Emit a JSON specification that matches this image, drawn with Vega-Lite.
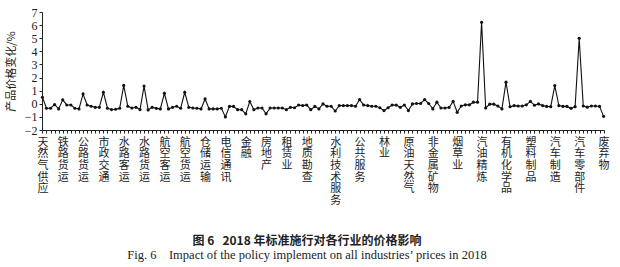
{
  "$schema": "https://vega.github.io/schema/vega-lite/v6.json",
  "width": 562,
  "height": 118,
  "autosize": {"type": "none"},
  "padding": {"left": 42, "top": 12, "right": 16, "bottom": 137},
  "background": "white",
  "config": {"view": {"stroke": null}},
  "title": {
    "text": "图 6\u00a0\u00a0\u00a02018 年标准施行对各行业的价格影响",
    "subtitle": "Fig. 6\u00a0\u00a0\u00a0\u00a0Impact of the policy implement on all industries’ prices in 2018",
    "orient": "bottom",
    "anchor": "middle",
    "dx": -16,
    "offset": 30,
    "font": "Noto Sans CJK SC",
    "fontSize": 12,
    "fontWeight": "bold",
    "color": "#222",
    "subtitleFont": "Liberation Serif",
    "subtitleFontSize": 12.5,
    "subtitleColor": "#222",
    "subtitlePadding": 1
  },
  "data": {
    "values": [
      {"industry": "天然气供应", "change": 0.5},
      {"industry": "#1", "change": -0.34},
      {"industry": "#2", "change": -0.34},
      {"industry": "#3", "change": -0.06},
      {"industry": "#4", "change": -0.39},
      {"industry": "铁路货运", "change": 0.3},
      {"industry": "#6", "change": -0.09},
      {"industry": "#7", "change": -0.09},
      {"industry": "#8", "change": -0.34},
      {"industry": "#9", "change": -0.39},
      {"industry": "公路货运", "change": 0.75},
      {"industry": "#11", "change": -0.09},
      {"industry": "#12", "change": -0.19},
      {"industry": "#13", "change": -0.27},
      {"industry": "#14", "change": -0.27},
      {"industry": "市政交通", "change": 0.88},
      {"industry": "#16", "change": -0.34},
      {"industry": "#17", "change": -0.44},
      {"industry": "#18", "change": -0.42},
      {"industry": "#19", "change": -0.34},
      {"industry": "水路客运", "change": 1.4},
      {"industry": "#21", "change": -0.19},
      {"industry": "#22", "change": -0.32},
      {"industry": "#23", "change": -0.27},
      {"industry": "#24", "change": -0.44},
      {"industry": "水路货运", "change": 1.35},
      {"industry": "#26", "change": -0.47},
      {"industry": "#27", "change": -0.27},
      {"industry": "#28", "change": -0.35},
      {"industry": "#29", "change": -0.39},
      {"industry": "航空客运", "change": 0.8},
      {"industry": "#31", "change": -0.39},
      {"industry": "#32", "change": -0.27},
      {"industry": "#33", "change": -0.19},
      {"industry": "#34", "change": -0.34},
      {"industry": "航空货运", "change": 0.88},
      {"industry": "#36", "change": -0.27},
      {"industry": "#37", "change": -0.32},
      {"industry": "#38", "change": -0.34},
      {"industry": "#39", "change": -0.39},
      {"industry": "仓储运输", "change": 0.37},
      {"industry": "#41", "change": -0.39},
      {"industry": "#42", "change": -0.39},
      {"industry": "#43", "change": -0.39},
      {"industry": "#44", "change": -0.34},
      {"industry": "电信通讯", "change": -1.0},
      {"industry": "#46", "change": -0.2},
      {"industry": "#47", "change": -0.2},
      {"industry": "#48", "change": -0.45},
      {"industry": "#49", "change": -0.45},
      {"industry": "金融", "change": -0.77},
      {"industry": "#51", "change": 0.17},
      {"industry": "#52", "change": -0.45},
      {"industry": "#53", "change": -0.32},
      {"industry": "#54", "change": -0.32},
      {"industry": "房地产", "change": -0.77},
      {"industry": "#56", "change": -0.32},
      {"industry": "#57", "change": -0.32},
      {"industry": "#58", "change": -0.32},
      {"industry": "#59", "change": -0.32},
      {"industry": "租赁业", "change": -0.45},
      {"industry": "#61", "change": -0.27},
      {"industry": "#62", "change": -0.3},
      {"industry": "#63", "change": -0.09},
      {"industry": "#64", "change": -0.14},
      {"industry": "地质勘查", "change": -0.09},
      {"industry": "#66", "change": -0.45},
      {"industry": "#67", "change": -0.2},
      {"industry": "#68", "change": -0.39},
      {"industry": "#69", "change": -0.01},
      {"industry": "#70", "change": -0.19},
      {"industry": "#71", "change": -0.19},
      {"industry": "水利技术服务", "change": -0.55},
      {"industry": "#73", "change": -0.14},
      {"industry": "#74", "change": -0.14},
      {"industry": "#75", "change": -0.14},
      {"industry": "#76", "change": -0.14},
      {"industry": "#77", "change": -0.19},
      {"industry": "公共服务", "change": 0.32},
      {"industry": "#79", "change": -0.09},
      {"industry": "#80", "change": -0.14},
      {"industry": "#81", "change": -0.19},
      {"industry": "#82", "change": -0.19},
      {"industry": "#83", "change": -0.3},
      {"industry": "林业", "change": -0.52},
      {"industry": "#85", "change": -0.3},
      {"industry": "#86", "change": -0.09},
      {"industry": "#87", "change": -0.1},
      {"industry": "#88", "change": -0.27},
      {"industry": "#89", "change": -0.09},
      {"industry": "原油天然气", "change": -0.52},
      {"industry": "#91", "change": -0.01},
      {"industry": "#92", "change": 0.02},
      {"industry": "#93", "change": 0.02},
      {"industry": "#94", "change": 0.32},
      {"industry": "#95", "change": 0.02},
      {"industry": "非金属矿物", "change": -0.39},
      {"industry": "#97", "change": 0.12},
      {"industry": "#98", "change": -0.32},
      {"industry": "#99", "change": -0.32},
      {"industry": "#100", "change": -0.28},
      {"industry": "#101", "change": 0.18},
      {"industry": "烟草业", "change": -0.65},
      {"industry": "#103", "change": -0.17},
      {"industry": "#104", "change": -0.08},
      {"industry": "#105", "change": -0.08},
      {"industry": "#106", "change": 0.12},
      {"industry": "#107", "change": 0.12},
      {"industry": "汽油精炼", "change": 6.22},
      {"industry": "#109", "change": -0.32},
      {"industry": "#110", "change": -0.03},
      {"industry": "#111", "change": -0.03},
      {"industry": "#112", "change": -0.17},
      {"industry": "#113", "change": -0.39},
      {"industry": "有机化学品", "change": 1.65},
      {"industry": "#115", "change": -0.23},
      {"industry": "#116", "change": -0.14},
      {"industry": "#117", "change": -0.17},
      {"industry": "#118", "change": -0.17},
      {"industry": "#119", "change": -0.08},
      {"industry": "塑料制品", "change": 0.18},
      {"industry": "#121", "change": -0.11},
      {"industry": "#122", "change": -0.01},
      {"industry": "#123", "change": -0.14},
      {"industry": "#124", "change": -0.2},
      {"industry": "#125", "change": -0.22},
      {"industry": "汽车制造", "change": 1.39},
      {"industry": "#127", "change": -0.14},
      {"industry": "#128", "change": -0.2},
      {"industry": "#129", "change": -0.2},
      {"industry": "#130", "change": -0.35},
      {"industry": "#131", "change": -0.22},
      {"industry": "汽车零部件", "change": 5.0},
      {"industry": "#133", "change": -0.17},
      {"industry": "#134", "change": -0.26},
      {"industry": "#135", "change": -0.17},
      {"industry": "#136", "change": -0.17},
      {"industry": "#137", "change": -0.2},
      {"industry": "废弃物", "change": -0.96}
    ]
  },
  "mark": {
    "type": "line",
    "color": "#111",
    "strokeWidth": 1.1,
    "point": {"filled": true, "size": 10, "color": "#111"}
  },
  "encoding": {
    "x": {
      "field": "industry",
      "type": "ordinal",
      "sort": null,
      "scale": {"type": "point", "padding": 0.1},
      "axis": {
        "title": null,
        "labelExpr": "indexof(datum.value, '#') == 0 ? '' : split(datum.value, '')",
        "labelAngle": 0,
        "labelAlign": "center",
        "labelBaseline": "top",
        "labelFont": "Noto Sans CJK SC",
        "labelFontSize": 11,
        "labelLineHeight": 11.7,
        "labelColor": "#222",
        "labelOverlap": false,
        "labelPadding": 3,
        "tickSize": 3,
        "tickColor": "#222",
        "domainColor": "#222",
        "grid": false
      }
    },
    "y": {
      "field": "change",
      "type": "quantitative",
      "scale": {"domain": [-2, 7], "nice": false},
      "axis": {
        "title": "产品价格变化/%",
        "titleFont": "Noto Sans CJK SC",
        "titleFontSize": 11,
        "titleFontWeight": "normal",
        "titleColor": "#222",
        "titlePadding": 8,
        "values": [-2, -1, 0, 1, 2, 3, 4, 5, 6, 7],
        "labelFont": "Liberation Serif",
        "labelFontSize": 12,
        "labelColor": "#222",
        "labelPadding": 2,
        "tickSize": 3,
        "tickColor": "#222",
        "domainColor": "#222",
        "grid": false
      }
    }
  }
}
